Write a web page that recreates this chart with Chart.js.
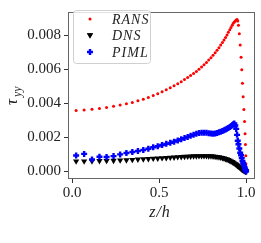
<!DOCTYPE html>
<html>
<head>
  <meta charset="UTF-8">
  <title>tau_yy profile</title>
  <script src="https://cdn.jsdelivr.net/npm/chart.js@4.4.0/dist/chart.umd.min.js"></script>
  <style>
    body { margin: 0; background: #fff; }
  </style>
</head>
<body>
  <canvas id="tau-chart" width="261" height="243"></canvas>

  <script>
    // z/h positions (same grid for all three series)
    const zPos = [
      0.023, 0.069, 0.114, 0.157, 0.198, 0.238, 0.276, 0.312, 0.346, 0.378,
      0.409, 0.438, 0.466, 0.492, 0.517, 0.541, 0.564, 0.586, 0.607, 0.627,
      0.646, 0.664, 0.681, 0.698, 0.714, 0.729, 0.744, 0.758, 0.772, 0.785,
      0.798, 0.810, 0.822, 0.833, 0.844, 0.854, 0.864, 0.873, 0.882, 0.890,
      0.898, 0.906, 0.913, 0.920, 0.926, 0.932, 0.938, 0.943, 0.948, 0.952,
      0.956, 0.961, 0.966, 0.971, 0.975, 0.979, 0.983, 0.987, 0.991, 0.994,
      0.996, 0.998, 0.999, 1.000
    ];

    const ransVals = [
      0.00358, 0.00361, 0.00365, 0.00370, 0.00376, 0.00383, 0.00390, 0.00398, 0.00406, 0.00415,
      0.00425, 0.00435, 0.00446, 0.00457, 0.00468, 0.00480, 0.00492, 0.00504, 0.00516, 0.00528,
      0.00540, 0.00552, 0.00564, 0.00576, 0.00588, 0.00601, 0.00614, 0.00627, 0.00641, 0.00655,
      0.00669, 0.00683, 0.00698, 0.00713, 0.00728, 0.00743, 0.00758, 0.00773, 0.00788, 0.00803,
      0.00818, 0.00833, 0.00847, 0.00860, 0.00871, 0.00879, 0.00885, 0.00890, 0.00893, 0.00885,
      0.00860, 0.00810, 0.00743, 0.00672, 0.00598, 0.00519, 0.00439, 0.00364, 0.00294, 0.00221,
      0.00159, 0.00092, 0.00045, 0.00010
    ];

    const dnsVals = [
      0.00060, 0.00060, 0.00061, 0.00062, 0.00063, 0.00064, 0.00066, 0.00067, 0.00069, 0.00071,
      0.00072, 0.00074, 0.00076, 0.00077, 0.00079, 0.00080, 0.00082, 0.00083, 0.00085, 0.00086,
      0.00087, 0.00088, 0.00089, 0.00090, 0.00090, 0.00091, 0.00091, 0.00091, 0.00091, 0.00090,
      0.00090, 0.00089, 0.00087, 0.00086, 0.00084, 0.00082, 0.00080, 0.00077, 0.00074, 0.00071,
      0.00068, 0.00064, 0.00060, 0.00056, 0.00052, 0.00048, 0.00044, 0.00040, 0.00036, 0.00033,
      0.00029, 0.00025, 0.00021, 0.00017, 0.00013, 0.00010, 0.00007, 0.00005, 0.00003, 0.00002,
      0.00001, 0.00001, 0.00000, 0.00000
    ];

    const pimlVals = [
      0.00094, 0.00103, 0.00070, 0.00086, 0.00085, 0.00090, 0.00100, 0.00108, 0.00114, 0.00120,
      0.00126, 0.00133, 0.00142, 0.00148, 0.00155, 0.00162, 0.00168, 0.00175, 0.00182, 0.00189,
      0.00196, 0.00203, 0.00210, 0.00216, 0.00222, 0.00226, 0.00228, 0.00228, 0.00227, 0.00225,
      0.00223, 0.00222, 0.00223, 0.00226, 0.00230, 0.00234, 0.00238, 0.00242, 0.00247, 0.00251,
      0.00256, 0.00261, 0.00266, 0.00272, 0.00278, 0.00282, 0.00270, 0.00250, 0.00215, 0.00180,
      0.00160, 0.00135, 0.00110, 0.00095, 0.00078, 0.00062, 0.00050, 0.00038, 0.00026, 0.00016,
      0.00008, 0.00004, 0.00002, 0.00000
    ];

    const xTicks = [0.0, 0.5, 1.0];
    const yTicks = [0.000, 0.002, 0.004, 0.006, 0.008];
    const seriesNames = ['RANS', 'DNS', 'PIML'];

    const serif = '"Liberation Serif", "DejaVu Serif", serif';

    function toPoints(vals) {
      return zPos.map((z, i) => ({ x: z, y: vals[i] }));
    }

    // box round the plot area + legend + axis titles with subscript
    const extras = {
      id: 'extras',
      afterDatasetsDraw(chart) {
        const ctx = chart.ctx;
        const a = chart.chartArea;
        ctx.save();
        ctx.strokeStyle = '#666';
        ctx.lineWidth = 1;
        ctx.strokeRect(Math.round(a.left) + 0.5, Math.round(a.top) + 0.5,
                       Math.round(a.right - a.left) - 1, Math.round(a.bottom - a.top) - 1);

        // legend
        const lx = 73, ly = 10, lw = 77, lh = 53;
        ctx.beginPath();
        ctx.roundRect(lx + 0.5, ly + 0.5, lw, lh, 3);
        ctx.fillStyle = 'rgba(255,255,255,0.8)';
        ctx.fill();
        ctx.strokeStyle = '#d0d0d0';
        ctx.stroke();
        const rowsY = [19, 35, 52];
        chart.data.datasets.forEach((ds, i) => {
          Chart.helpers.drawPoint(ctx, {
            pointStyle: ds.pointStyle,
            radius: ds.pointRadius,
            rotation: ds.rotation || 0,
            borderWidth: ds.borderWidth
          }, 90, rowsY[i]);
          ctx.fillStyle = ds.backgroundColor;
          ctx.strokeStyle = ds.borderColor;
          ctx.lineWidth = ds.borderWidth;
          ctx.fill();
          if (ds.borderWidth) ctx.stroke();
          ctx.fillStyle = '#222';
          ctx.font = 'italic 14px ' + serif;
          ctx.textAlign = 'left';
          ctx.textBaseline = 'middle';
          ctx.letterSpacing = '1px';
          ctx.fillText(seriesNames[i], 112, rowsY[i] + 1);
          ctx.letterSpacing = '0px';
        });

        // x title
        ctx.fillStyle = '#222';
        ctx.font = 'italic 16px ' + serif;
        ctx.textAlign = 'center';
        ctx.textBaseline = 'middle';
        ctx.letterSpacing = '1px';
        ctx.fillText('z/h', 160, 213);
        ctx.letterSpacing = '0px';

        // y title: tau with subscript yy
        ctx.translate(13, 95);
        ctx.rotate(-Math.PI / 2);
        ctx.textAlign = 'left';
        ctx.textBaseline = 'alphabetic';
        ctx.font = 'italic 17px ' + serif;
        ctx.fillText('τ', -10, 4);
        ctx.font = 'italic 12px ' + serif;
        ctx.fillText('yy', -2, 8);
        ctx.restore();
      }
    };

    new Chart(document.getElementById('tau-chart'), {
      type: 'scatter',
      data: {
        datasets: [
          {
            label: seriesNames[0],
            data: toPoints(ransVals),
            pointStyle: 'circle',
            pointRadius: 1.5,
            backgroundColor: '#ff0000',
            borderColor: '#ff0000',
            borderWidth: 0,
            order: 2
          },
          {
            label: seriesNames[1],
            data: toPoints(dnsVals),
            pointStyle: 'triangle',
            rotation: 180,
            pointRotation: 180,
            pointRadius: 3.6,
            backgroundColor: '#000000',
            borderColor: '#000000',
            borderWidth: 0,
            order: 1
          },
          {
            label: seriesNames[2],
            data: toPoints(pimlVals),
            pointStyle: 'cross',
            pointRadius: 3,
            backgroundColor: '#0000ff',
            borderColor: '#0000ff',
            borderWidth: 2.4,
            order: 0
          }
        ]
      },
      options: {
        responsive: false,
        animation: false,
        devicePixelRatio: 1,
        layout: { padding: { top: 5, right: 5, left: 0, bottom: 0 } },
        plugins: {
          legend: { display: false },
          tooltip: { enabled: false }
        },
        scales: {
          x: {
            type: 'linear',
            min: -0.0238,
            max: 1.0488,
            afterFit: s => { s.height = 64; },
            afterBuildTicks: s => { s.ticks = xTicks.map(v => ({ value: v })); },
            ticks: {
              font: { family: serif, size: 15 },
              color: '#222',
              padding: 1,
              maxRotation: 0,
              callback: v => v.toFixed(1)
            },
            grid: { drawOnChartArea: false, tickLength: 4, color: '#333' },
            border: { display: false }
          },
          y: {
            type: 'linear',
            min: -0.000446,
            max: 0.009376,
            afterFit: s => { s.width = 68; },
            afterBuildTicks: s => { s.ticks = yTicks.map(v => ({ value: v })); },
            ticks: {
              font: { family: serif, size: 15 },
              color: '#222',
              padding: 3,
              callback: v => v.toFixed(3)
            },
            grid: { drawOnChartArea: false, tickLength: 4, color: '#333' },
            border: { display: false }
          }
        }
      },
      plugins: [extras]
    });
  </script>
</body>
</html>
